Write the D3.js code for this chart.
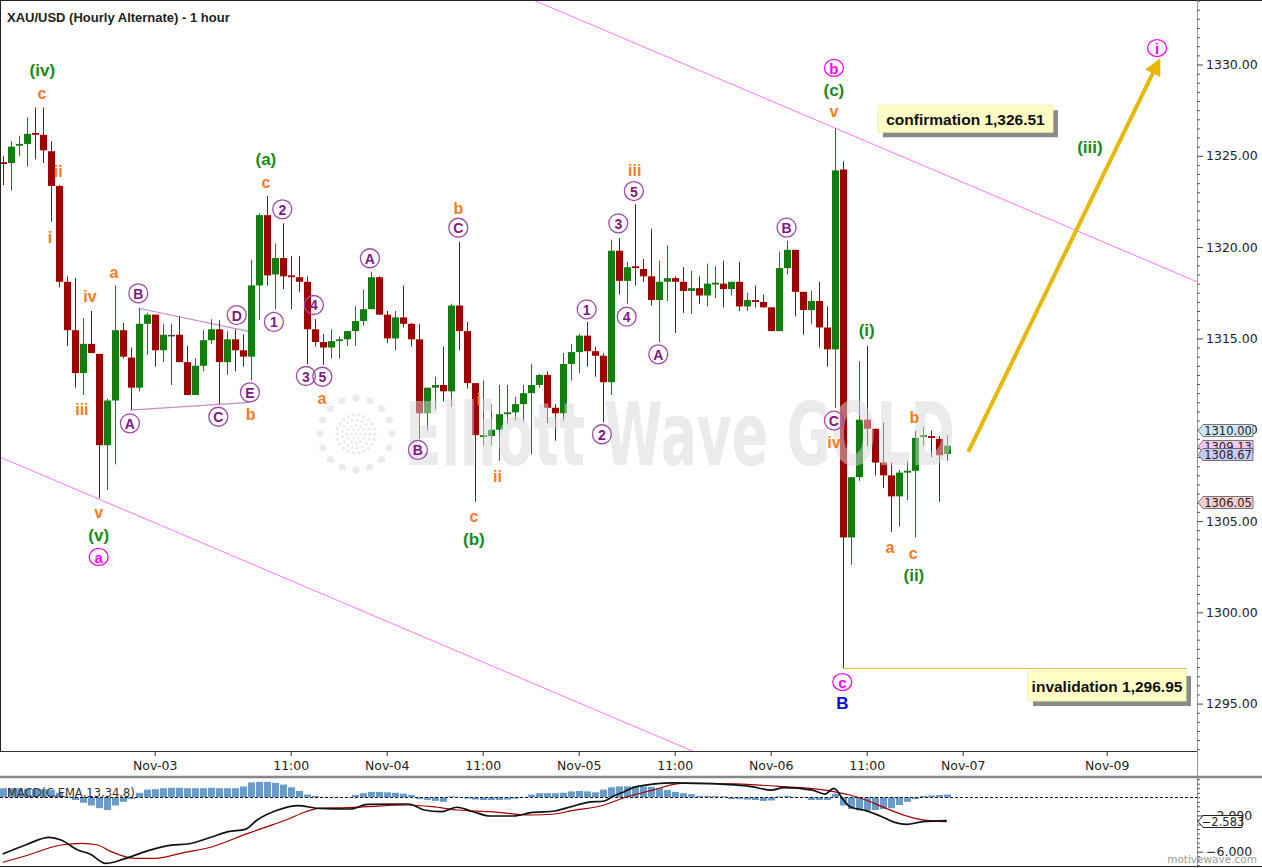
<!DOCTYPE html>
<html><head><meta charset="utf-8">
<script src="https://cdn.jsdelivr.net/npm/d3@7"></script>
<style>html,body{margin:0;padding:0;background:#fff;}svg{display:block;}</style>
</head><body>
<svg id="chart" width="1262" height="868"></svg>
<script>
// ---------------- DATA ----------------
const opens = [1324.65,1324.6,1325.55,1325.65,1326.25,1326.15,1325.25,1323.35,1318.1,1315.45,
 1313.1,1314.7,1314.15,1309.15,1311.6,1315.45,1313.95,1312.3,1315.8,1316.3,
 1314.35,1315.15,1315.2,1313.7,1311.9,1313.5,1314.9,1315.5,1313.7,1314.95,
 1314.35,1314.0,1317.9,1321.75,1318.5,1319.4,1318.45,1318.35,1318.1,1315.5,
 1314.8,1314.5,1314.85,1314.95,1315.4,1315.95,1316.6,1318.35,1316.3,1315.0,
 1316.15,1315.8,1314.95,1310.9,1312.3,1312.45,1312.1,1316.8,1315.4,1312.55,
 1309.6,1309.65,1310.0,1310.85,1310.95,1311.4,1312.0,1312.45,1313.0,1311.2,
 1310.9,1313.6,1314.25,1315.15,1314.3,1314.05,1312.6,1319.8,1318.15,1318.95,
 1318.8,1318.4,1317.1,1318.1,1318.3,1318.1,1317.6,1317.75,1317.35,1317.95,
 1318.0,1317.7,1318.1,1316.75,1317.1,1317.0,1316.7,1315.4,1318.85,1319.85,
 1317.55,1316.55,1317.05,1315.6,1314.4,1324.25,1304.1,1307.4,1310.55,1310.05,
 1308.2,1307.5,1306.35,1307.65,1307.75,1309.6,1309.65,1309.5,1308.67];
const highs = [1325.0,1325.8,1326.1,1327.1,1327.65,1327.65,1325.8,1323.4,1318.4,1318.3,
 1316.1,1316.5,1314.15,1311.7,1317.9,1315.85,1314.5,1316.65,1316.4,1316.3,
 1315.8,1315.8,1316.2,1314.6,1313.9,1315.45,1316.05,1316.0,1315.4,1315.5,
 1315.2,1319.3,1321.85,1322.8,1320.2,1321.3,1319.5,1319.5,1318.4,1316.05,
 1315.25,1315.5,1315.1,1315.4,1316.75,1317.65,1318.65,1318.4,1316.5,1316.5,
 1317.9,1315.85,1315.8,1312.3,1312.9,1314.55,1316.9,1320.3,1315.9,1312.55,
 1312.7,1311.4,1312.45,1312.45,1311.8,1312.45,1313.6,1313.05,1313.2,1311.4,
 1314.2,1314.7,1315.25,1315.9,1314.55,1314.2,1320.4,1320.5,1319.2,1322.35,
 1319.35,1321.0,1319.25,1320.1,1318.4,1318.9,1318.7,1318.4,1319.1,1318.95,
 1319.25,1318.1,1319.2,1317.5,1317.9,1317.4,1316.7,1319.75,1320.35,1319.85,
 1317.55,1317.6,1318.1,1316.75,1326.51,1324.7,1307.4,1313.75,1314.6,1310.05,
 1310.4,1308.2,1307.8,1308.3,1309.95,1310.15,1309.95,1309.65,1309.7];
const lows = [1323.4,1323.1,1325.0,1324.4,1324.8,1324.6,1321.4,1317.8,1314.6,1312.3,
 1311.9,1314.2,1306.25,1306.7,1308.1,1313.9,1311.1,1312.1,1314.1,1313.45,
 1313.7,1312.45,1313.7,1311.9,1311.9,1313.2,1314.7,1311.4,1313.0,1313.2,
 1313.45,1312.7,1316.0,1317.9,1316.6,1317.7,1316.6,1317.55,1313.6,1314.55,
 1313.55,1313.9,1313.9,1314.6,1314.6,1315.7,1316.6,1316.3,1314.75,1314.35,
 1315.6,1314.55,1309.5,1309.95,1311.1,1311.55,1311.25,1314.35,1312.25,1306.05,
 1309.1,1309.15,1308.3,1310.3,1310.5,1310.45,1308.65,1312.3,1310.35,1309.4,
 1310.5,1312.7,1313.1,1313.45,1312.9,1310.4,1311.9,1317.4,1316.9,1317.9,
 1318.1,1316.8,1314.8,1317.05,1315.3,1316.4,1316.35,1316.9,1316.75,1317.2,
 1316.7,1317.35,1316.5,1316.5,1316.7,1316.7,1315.4,1315.4,1318.5,1316.2,
 1315.2,1315.8,1314.5,1313.45,1311.2,1296.95,1302.6,1307.2,1309.1,1307.5,
 1306.8,1304.4,1304.7,1306.15,1304.1,1309.1,1308.5,1306.05,1308.3];
const closes = [1324.55,1325.5,1325.65,1326.2,1326.15,1325.3,1323.35,1318.1,1315.45,1313.1,
 1314.7,1314.2,1309.15,1311.6,1315.45,1314.0,1312.3,1315.8,1316.3,1314.35,
 1315.2,1315.15,1313.7,1311.9,1313.5,1314.9,1315.5,1313.7,1314.95,1314.35,
 1314.0,1317.9,1321.75,1318.45,1319.4,1318.4,1318.35,1318.1,1315.5,1314.8,
 1314.5,1314.85,1314.95,1315.4,1315.95,1316.6,1318.35,1316.3,1315.0,1316.15,
 1315.8,1314.95,1310.9,1312.3,1312.45,1312.1,1316.8,1315.4,1312.55,1309.7,
 1309.7,1310.0,1310.85,1310.95,1311.4,1312.0,1312.45,1313.0,1311.2,1310.9,
 1313.6,1314.25,1315.15,1314.3,1314.05,1312.6,1319.8,1318.15,1318.9,1318.85,
 1318.4,1317.1,1318.1,1318.3,1318.1,1317.6,1317.75,1317.35,1318.0,1318.05,
 1317.7,1318.1,1316.75,1317.1,1317.0,1316.7,1315.4,1318.85,1319.85,1317.55,
 1316.55,1317.05,1315.6,1314.4,1324.2,1304.1,1307.4,1310.55,1310.05,1308.2,
 1307.5,1306.35,1307.65,1307.75,1309.55,1309.7,1309.55,1308.6,1309.13];

// MACD histogram per bar
const macdHist = [1.0,1.0,1.0,0.95,0.9,0.9,0.8,0.5,0.1,-0.3,
 -0.6,-0.9,-1.2,-1.4,-0.9,-0.5,-0.2,0.5,0.85,0.9,
 1.0,1.05,1.05,1.0,1.0,1.0,1.05,1.0,1.0,1.0,
 1.2,1.65,1.7,1.7,1.6,1.4,1.1,0.7,0.3,0.15,
 0.05,0.05,0.05,0.05,0.25,0.45,0.6,0.6,0.55,0.5,
 0.4,0.25,-0.2,-0.3,-0.4,-0.5,0.1,0.05,-0.15,-0.25,
 -0.3,-0.3,-0.3,-0.25,-0.15,0.05,0.3,0.45,0.45,0.45,
 0.5,0.65,0.7,0.65,0.55,0.85,1.1,1.2,1.2,1.2,
 1.2,1.15,1.0,0.8,0.6,0.45,0.35,0.15,0.15,0.12,
 0.1,-0.2,-0.2,-0.25,-0.3,-0.4,-0.35,0.1,0.15,0.05,
 -0.05,-0.3,-0.3,-0.3,0.4,-0.9,-1.3,-1.45,-1.45,-1.4,
 -1.3,-1.2,-0.85,-0.5,-0.2,0.15,0.2,0.25,0.3];
// MACD line and signal line: [bar, value]
const macdLine = [[0,-6.26],[3,-5.2],[5.8,-4.42],[7.3,-4.71],[9.4,-5.81],[10.9,-6.26],[12.9,-7.29],[15,-6.85],[18,-5.93],[21.1,-5.27],[23.1,-5.15],[26.2,-4.35],[28.2,-3.79],[30.3,-3.54],[31.8,-2.5],[34.4,-1.4],[36.9,-0.92],[39.5,-1.22],[43.5,-1.29],[45.6,-0.78],[50.7,-0.74],[52.7,-1.4],[54.8,-1.59],[56.8,-1.1],[58.8,-1.59],[60.9,-2.06],[63.9,-2.06],[66,-1.7],[69,-1.51],[71.1,-1.03],[73.1,-0.56],[75.2,-0.41],[76.2,0.07],[77.7,0.62],[79.2,1.17],[83.8,1.6],[87.4,1.54],[91.5,1.36],[93.6,1.17],[96.1,0.8],[97.6,1.06],[101.2,0.8],[102.8,0.36],[103.9,0.99],[105.1,-0.3],[105.9,-1.03],[107.9,-1.47],[109.9,-2.14],[111.5,-2.76],[113,-2.98],[115,-2.69],[118,-2.58]];
const signalLine = [[0,-7.17],[2.7,-6.5],[7.3,-5.26],[9.9,-5.08],[11.9,-5.26],[13.4,-5.93],[16.5,-6.73],[19.1,-6.73],[22.6,-6.1],[26.2,-5.45],[30.3,-4.09],[32.8,-3.31],[35.4,-2.5],[37.9,-1.59],[39.5,-1.22],[43,-1.14],[45.6,-1.03],[50.7,-0.85],[53.7,-1.03],[56.8,-1.4],[60.9,-1.59],[66,-1.95],[69,-1.84],[71.1,-1.47],[75.2,-0.85],[77.5,-0.1],[81.3,0.8],[84.9,1.54],[91.5,1.47],[97.6,1.17],[102.8,0.8],[105.9,0.25],[107.9,-0.3],[109.9,-1.03],[113,-2.06],[115,-2.5],[118,-2.69]];

const priceTicks = [1295,1300,1305,1310,1315,1320,1325,1330];
const timeTickBars = [19,36,48,60,72,84,96,108,120,138];
const timeTickLabels = ["Nov-03","11:00","Nov-04","11:00","Nov-05","11:00","Nov-06","11:00","Nov-07","Nov-09"];

// annotation anchors: [text, bar, price]
const greenLabels = [["(iv)",4.95,1329.66],["(v)",12,1304.23],["(a)",32.9,1324.77],["(b)",58.9,1304.0],["(c)",103.9,1328.56],["(i)",108,1315.44],["(ii)",113.9,1302.0],["(iii)",135.9,1325.48]];
const orangeLabels = [["c",4.9,1328.42],["ii",6.95,1324.13],["i",5.9,1320.54],["a",13.9,1318.6],["iv",10.9,1317.28],["iii",9.9,1311.08],["v",12,1305.44],["b",31,1310.83],["c",32.9,1323.55],["a",39.9,1311.72],["b",56.95,1322.12],["c",58.9,1305.24],["i",59.5,1311.63],["ii",61.85,1307.44],["iii",79,1324.18],["v",103.9,1327.43],["iv",103.9,1309.29],["a",110.9,1303.57],["b",113.95,1310.67],["c",113.8,1303.21]];
const purpleLabels = [["B",16.95,1317.47],["A",15.9,1310.35],["C",26.95,1310.71],["D",29.25,1316.28],["E",30.9,1312.04],["1",33.9,1315.9],["2",34.95,1322.07],["3",37.9,1312.94],["4",38.9,1316.83],["5",39.95,1312.9],["A",45.9,1319.39],["B",51.9,1308.89],["C",56.95,1321.06],["1",73,1316.59],["2",74.9,1309.75],["3",76.95,1321.3],["4",78,1316.19],["5",78.9,1323.07],["A",81.95,1314.13],["B",97.98,1321.07],["C",103.9,1310.5]];
const magentaLabels = [["a",12,1303.03],["b",103.9,1329.81],["c",104.95,1296.18],["i",144.3,1330.9]];
const blueLabels = [["B",104.95,1295.03]];

const channelUpper = [[66.5,1333.5],[149.3,1318.1]];
const channelLower = [[-0.34,1308.5],[86.5,1292.35]];
const triangleUpper = [[16.95,1316.65],[30.9,1315.37]];
const triangleLower = [[15.9,1311.07],[30.9,1311.5]];
const invalidation = {price:1296.95, from:105, to:148, text:"invalidation 1,296.95"};
const confirmation = {price:1326.51, text:"confirmation 1,326.51"};
const arrowPts = [[120.7,1308.79],[144.5,1330.18]];
const priceTags = [[1310.00,"#cfe6f2"],[1309.13,"#f3c9f3"],[1308.67,"#c9c9f6"],[1306.05,"#f6cccc"]];
const macdLast = -2.583;

// ---------------- CHART ----------------
const GREEN="#0f7d0f", RED="#a00000", ORANGE="#f57c1f", GREENLBL="#168a16", PURPLE="#7c1a80", MAG="#ff00ff";
const FONT="'Liberation Sans', Arial, sans-serif";
const PR=1197, PB=751;
const svg=d3.select("#chart");
const x=d3.scaleLinear().domain([0,118]).range([2.7,946.7]);
const y=d3.scaleLinear().domain([1295,1330]).range([703.6,64.5]);
const ym=d3.scaleLinear().domain([-6,0]).range([851.7,797.3]);

const defs=svg.append("defs");
defs.append("clipPath").attr("id","clipMain").append("rect").attr("x",0).attr("y",0).attr("width",PR).attr("height",PB);
defs.append("clipPath").attr("id","clipMacd").append("rect").attr("x",0).attr("y",778).attr("width",PR).attr("height",88);
defs.append("marker").attr("id","arrowHead").attr("viewBox","0 0 10 10").attr("refX",8).attr("refY",5)
  .attr("markerWidth",4.2).attr("markerHeight",4.2).attr("orient","auto")
  .append("path").attr("d","M0,0 L10,5 L0,10 Z").attr("fill","#e6b800");

svg.append("rect").attr("width",1262).attr("height",868).attr("fill","#fff");

const main=svg.append("g").attr("clip-path","url(#clipMain)");
const lineGen=d3.line().x(d=>x(d[0])).y(d=>y(d[1]));
function extend(pts, a, b){
  const s=(pts[1][1]-pts[0][1])/(pts[1][0]-pts[0][0]);
  return [[a, pts[0][1]+s*(a-pts[0][0])],[b, pts[0][1]+s*(b-pts[0][0])]];
}
[channelUpper, channelLower].forEach(p=>{
  main.append("path").attr("d",lineGen(extend(p,-5,160))).attr("stroke","#ff77ff").attr("stroke-width",1).attr("fill","none");
});
[triangleUpper, triangleLower].forEach(p=>{
  main.append("path").attr("d",lineGen(p)).attr("stroke","#c98ac9").attr("stroke-width",1.2).attr("fill","none");
});
main.append("line").attr("x1",x(invalidation.from)).attr("x2",x(invalidation.to))
  .attr("y1",Math.round(y(invalidation.price))+0.5).attr("y2",Math.round(y(invalidation.price))+0.5)
  .attr("stroke","#e8c43a").attr("stroke-width",1);

// candles
const idx=d3.range(opens.length);
const colorOf=i=>closes[i]>opens[i]?GREEN:(closes[i]<opens[i]?RED:"#444");
const cg=main.append("g");
cg.selectAll("line.wick").data(idx).join("line").attr("class","wick")
  .attr("x1",i=>Math.round(x(i))+0.5).attr("x2",i=>Math.round(x(i))+0.5)
  .attr("y1",i=>y(highs[i])).attr("y2",i=>y(lows[i]))
  .attr("stroke",colorOf).attr("stroke-width",1);
cg.selectAll("rect.body").data(idx).join("rect").attr("class","body")
  .attr("x",i=>Math.round(x(i))-3).attr("width",7)
  .attr("y",i=>{const t=y(Math.max(opens[i],closes[i])),b=y(Math.min(opens[i],closes[i]));return (b-t)<1.5?(t+b)/2-0.75:t;})
  .attr("height",i=>{const t=y(Math.max(opens[i],closes[i])),b=y(Math.min(opens[i],closes[i]));return Math.max(1.5,b-t);})
  .attr("fill",colorOf);

// watermark (semi-transparent, over candles)
const wm=svg.append("g").attr("opacity",0.5).attr("pointer-events","none");
wm.append("text").attr("x",405).attr("y",465).attr("textLength",550).attr("lengthAdjust","spacingAndGlyphs")
  .style("font-family","'DejaVu Sans', sans-serif").style("font-weight","bold").style("font-size","88px")
  .attr("fill","#d8d8d8").text("Elliott Wave GOLD");
const lc=[356,434];
[[36,16,3.6],[19,22,1.7],[14,17,1.6],[9,12,1.5],[4.5,6,1.3],[0,1,1.3]].forEach(([R,n,r])=>{
  d3.range(n).forEach(k=>{
    const a=2*Math.PI*k/n;
    wm.append("circle").attr("cx",lc[0]+R*Math.cos(a)).attr("cy",lc[1]+R*Math.sin(a)).attr("r",r).attr("fill","#d8d8d8");
  });
});

// labels
const lg=svg.append("g").style("font-family",FONT).style("font-weight","bold");
function textLabels(list, color, size){
  lg.selectAll(null).data(list).join("text")
    .attr("x",d=>x(d[1])).attr("y",d=>y(d[2])).attr("text-anchor","middle").attr("dominant-baseline","central")
    .style("font-size",size+"px").attr("fill",color).text(d=>d[0]);
}
textLabels(greenLabels, GREENLBL, 17);
textLabels(orangeLabels, ORANGE, 16);
textLabels(blueLabels, "#0a0ad8", 17);
const pg=lg.selectAll(null).data(purpleLabels).join("g").attr("transform",d=>`translate(${x(d[1])},${y(d[2])})`);
pg.append("circle").attr("r",9.5).attr("fill","none").attr("stroke","#a04aa4").attr("stroke-width",1.3);
pg.append("text").attr("text-anchor","middle").attr("dominant-baseline","central").attr("y",0.5)
  .style("font-size","14px").attr("fill",PURPLE).text(d=>d[0]);
const mg=lg.selectAll(null).data(magentaLabels).join("g").attr("transform",d=>`translate(${x(d[1])},${y(d[2])})`);
mg.append("ellipse").attr("rx",9.5).attr("ry",8.5).attr("fill","none").attr("stroke",MAG).attr("stroke-width",1.3);
mg.append("text").attr("text-anchor","middle").attr("dominant-baseline","central").attr("y",0.5)
  .style("font-size","15px").attr("fill",MAG).text(d=>d[0]);

// yellow arrow
svg.append("line").attr("x1",x(arrowPts[0][0])).attr("y1",y(arrowPts[0][1]))
  .attr("x2",x(arrowPts[1][0])).attr("y2",y(arrowPts[1][1]))
  .attr("stroke","#e6b800").attr("stroke-width",4).attr("marker-end","url(#arrowHead)");

// note boxes
function noteBox(x0, y0, w, h, text){
  const g=svg.append("g");
  g.append("rect").attr("x",x0+5).attr("y",y0+5).attr("width",w).attr("height",h).attr("fill","#8a8a8a");
  g.append("rect").attr("x",x0).attr("y",y0).attr("width",w).attr("height",h).attr("fill","#ffffc6").attr("stroke","#f0f0b0");
  g.append("text").attr("x",x0+w/2).attr("y",y0+h/2+1).attr("text-anchor","middle").attr("dominant-baseline","central")
    .style("font-family",FONT).style("font-weight","bold").style("font-size","15.5px").attr("fill","#111").text(text);
}
noteBox(878, y(confirmation.price)-23, 175, 27, confirmation.text);
noteBox(1028, y(invalidation.price)+3, 158, 30, invalidation.text);

// title
svg.append("text").attr("x",7).attr("y",22).style("font-family",FONT).style("font-weight","bold").style("font-size","13px")
  .attr("fill","#222").text("XAU/USD (Hourly Alternate) - 1 hour");

// frames
svg.append("line").attr("x1",0).attr("x2",1262).attr("y1",0.5).attr("y2",0.5).attr("stroke","#222");
svg.append("line").attr("x1",0.5).attr("x2",0.5).attr("y1",0).attr("y2",751).attr("stroke","#222");
svg.append("line").attr("x1",PR+0.5).attr("x2",PR+0.5).attr("y1",0).attr("y2",868).attr("stroke","#999");

// price axis
const AX="'DejaVu Sans', sans-serif";
const pAxis=svg.append("g").attr("transform",`translate(${PR},0)`)
  .call(d3.axisRight(y).tickValues(priceTicks).tickSize(6).tickPadding(3).tickFormat(d3.format(".2f")));
pAxis.select(".domain").remove();
pAxis.selectAll("text").style("font-family",AX).style("font-size","12.5px").attr("fill","#222");
pAxis.selectAll("line").attr("stroke","#444");
const minorP=d3.range(1292.5,1333.6,0.5).filter(v=>v%5!==0);
const pMinor=svg.append("g").attr("transform",`translate(${PR},0)`)
  .call(d3.axisRight(y).tickValues(minorP).tickSize(3).tickFormat(""));
pMinor.select(".domain").remove();
pMinor.selectAll("line").attr("stroke","#555");

// price tags
priceTags.forEach(([v,fill])=>{
  const yy=Math.round(y(v))+0.5;
  const g=svg.append("g");
  g.append("path").attr("d",`M${PR+1},${yy} L${PR+6},${yy-6} L${PR+56},${yy-6} L${PR+56},${yy+6} L${PR+6},${yy+6} Z`)
    .attr("fill",fill).attr("stroke","#555").attr("stroke-width",0.8);
  g.append("text").attr("x",PR+31).attr("y",yy+0.5).attr("text-anchor","middle").attr("dominant-baseline","central")
    .style("font-family",AX).style("font-size","11.5px").attr("fill","#222").text(d3.format(".2f")(v));
});

// time axis
const tAxis=svg.append("g").attr("transform",`translate(0,${PB})`)
  .call(d3.axisBottom(x).tickValues(timeTickBars).tickSize(5).tickPadding(5).tickFormat((d,k)=>timeTickLabels[k]));
tAxis.select(".domain").remove();
tAxis.selectAll("text").style("font-family",AX).style("font-size","12.5px").attr("fill","#222");
tAxis.selectAll("line").attr("stroke","#333");
svg.append("line").attr("x1",0).attr("x2",PR).attr("y1",PB+0.5).attr("y2",PB+0.5).attr("stroke","#333");

// separator & macd frame
svg.append("line").attr("x1",0).attr("x2",1262).attr("y1",777).attr("y2",777).attr("stroke","#888").attr("stroke-width",2.5);
svg.append("line").attr("x1",0).attr("x2",1262).attr("y1",866.5).attr("y2",866.5).attr("stroke","#222");

// MACD panel
const mp=svg.append("g").attr("clip-path","url(#clipMacd)");
mp.selectAll("rect.h").data(idx).join("rect").attr("class","h")
  .attr("x",i=>Math.round(x(i))-3).attr("width",7)
  .attr("y",i=>Math.min(ym(macdHist[i]),ym(0))).attr("height",i=>Math.abs(ym(macdHist[i])-ym(0)))
  .attr("fill","#6b9bc8");
mp.append("line").attr("x1",0).attr("x2",PR).attr("y1",Math.round(ym(0))+0.5).attr("y2",Math.round(ym(0))+0.5)
  .attr("stroke","#111").attr("stroke-dasharray","3,2");
const ml=d3.line().x(d=>x(d[0])).y(d=>ym(d[1])).curve(d3.curveMonotoneX);
mp.append("path").attr("d",ml(signalLine)).attr("fill","none").attr("stroke","#a00000").attr("stroke-width",1.2);
mp.append("path").attr("d",ml(macdLine)).attr("fill","none").attr("stroke","#111").attr("stroke-width",1.7);
svg.append("text").attr("x",7).attr("y",797).style("font-family",AX).style("font-size","11.5px").attr("fill","#333")
  .text("MACD(C,EMA,13,34,8)");

// MACD axis
const mAxis=svg.append("g").attr("transform",`translate(${PR},0)`)
  .call(d3.axisRight(ym).tickValues([-2,-6]).tickSize(6).tickPadding(3).tickFormat(d3.format(".3f")));
mAxis.select(".domain").remove();
mAxis.selectAll("text").style("font-family",AX).style("font-size","12.5px").attr("fill","#222");
mAxis.selectAll("line").attr("stroke","#444");
const mMinor=svg.append("g").attr("transform",`translate(${PR},0)`)
  .call(d3.axisRight(ym).tickValues(d3.range(-7.5,2.1,0.5).filter(v=>v!==-2&&v!==-6)).tickSize(3).tickFormat(""));
mMinor.select(".domain").remove();
mMinor.selectAll("line").attr("stroke","#555");
{
  const yy=Math.round(ym(macdLast))+0.5;
  const g=svg.append("g");
  g.append("path").attr("d",`M${PR+1},${yy} L${PR+6},${yy-6} L${PR+45},${yy-6} L${PR+45},${yy+6} L${PR+6},${yy+6} Z`)
    .attr("fill","#fff").attr("stroke","#222").attr("stroke-width",1);
  g.append("text").attr("x",PR+26).attr("y",yy+0.5).attr("text-anchor","middle").attr("dominant-baseline","central")
    .style("font-family",AX).style("font-size","11.5px").attr("fill","#222").text(d3.format(".3f")(macdLast));
}
svg.append("text").attr("x",1257).attr("y",863).attr("text-anchor","end").style("font-family",AX).style("font-size","10.5px")
  .attr("fill","#9a9a9a").text("motivewave.com");
</script>
</body></html>
